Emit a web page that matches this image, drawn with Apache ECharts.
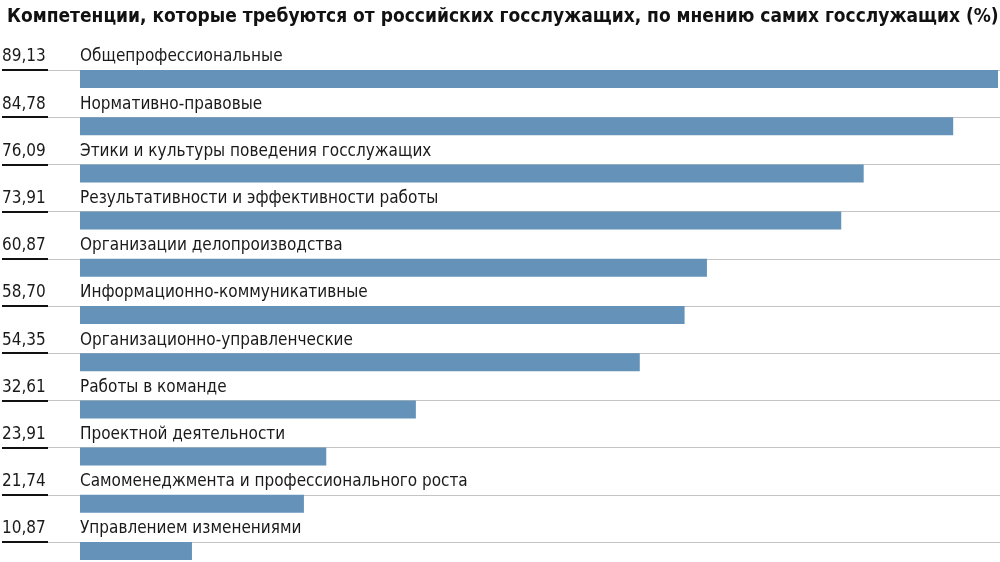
<!DOCTYPE html>
<html><head><meta charset="utf-8">
<script src="https://cdn.jsdelivr.net/npm/echarts@6/dist/echarts.min.js"></script>
<style>html,body{margin:0;padding:0;background:#fff}#c{width:1000px;height:562px}</style>
</head><body><div id="c"></div>
<script>
var titleText = 'Компетенции, которые требуются от российских госслужащих, по мнению самих госслужащих (%)';
var categories = ['Общепрофессиональные','Нормативно-правовые','Этики и культуры поведения госслужащих','Результативности и эффективности работы','Организации делопроизводства','Информационно-коммуникативные','Организационно-управленческие','Работы в команде','Проектной деятельности','Самоменеджмента и профессионального роста','Управлением изменениями'];
var values = [89.13,84.78,76.09,73.91,60.87,58.70,54.35,32.61,23.91,21.74,10.87];

var FONT = "'DejaVu Sans Condensed','Liberation Sans Narrow',sans-serif";
function fmt(v){return v.toFixed(2).replace('.', ',');}

var chart = echarts.init(document.getElementById('c'));
chart.setOption({
  animation:false,
  backgroundColor:'#fff',
  title:{text:titleText,left:2,top:3,textStyle:{fontFamily:FONT,fontWeight:'bold',fontSize:19,color:'#111'}},
  grid:[
    {left:80,right:2,top:79,height:472,containLabel:false},
    {left:48,right:0,top:70,height:472,containLabel:false}
  ],
  xAxis:[
    {gridIndex:0,type:'value',min:0,max:'dataMax',show:false},
    {gridIndex:1,type:'value',min:0,max:1,show:false}
  ],
  yAxis:[
    {gridIndex:0,type:'category',inverse:true,boundaryGap:false,data:categories,show:false},
    {gridIndex:1,type:'category',inverse:true,data:categories.slice(1),
     axisLine:{show:false},axisLabel:{show:false},
     axisTick:{show:true,length:46,lineStyle:{color:'#111',width:2}},
     splitLine:{show:true,lineStyle:{color:'#c4c4c4',width:1}}}
  ],
  series:[{
    type:'bar',xAxisIndex:0,yAxisIndex:0,data:values,barWidth:18,z:3,clip:false,
    itemStyle:{color:'#6592b8'},
    label:{show:true,position:[-78,-13],align:'left',verticalAlign:'middle',
      formatter:function(p){return '{v|'+fmt(p.value)+'}{n|'+categories[p.dataIndex]+'}';},
      rich:{v:{width:78,fontSize:17,fontFamily:FONT,color:'#1a1a1a'},n:{fontSize:17,fontFamily:FONT,color:'#1a1a1a'}}}
  }]
});
</script></body></html>
